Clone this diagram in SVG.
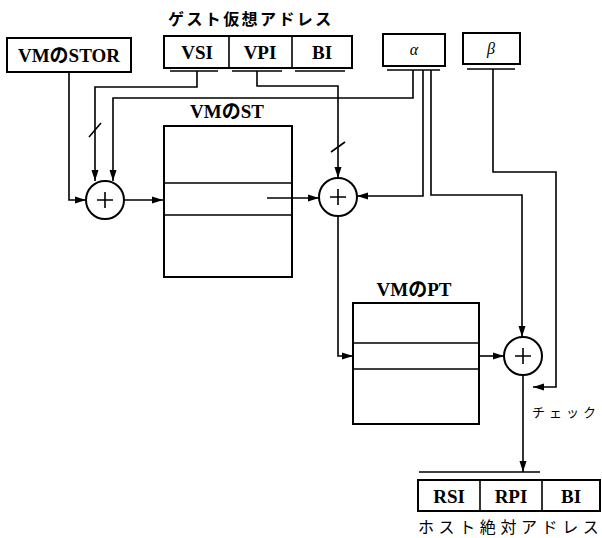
<svg xmlns="http://www.w3.org/2000/svg" width="602" height="538" viewBox="0 0 602 538">
<style>
.box{fill:#fff;stroke:#000;stroke-width:2}
.ln{fill:none;stroke:#000;stroke-width:1.6}
.ul{fill:none;stroke:#000;stroke-width:1.6}
.arr{fill:none;stroke:#000;stroke-width:1.6;marker-end:url(#ah)}
.lbl{font-family:"Liberation Serif","Noto Sans CJK JP",serif;font-weight:bold;font-size:19px;text-anchor:middle;fill:#000}
.jp{font-family:"Noto Sans CJK JP",sans-serif;fill:#000}
.gr{font-family:"Liberation Serif",serif;font-style:italic;font-size:16px;text-anchor:middle;fill:#000}
.circ{fill:#fff;stroke:#000;stroke-width:2}
</style>
<defs>
<marker id="ah" markerWidth="12" markerHeight="8" refX="11" refY="4" orient="auto" markerUnits="userSpaceOnUse">
<path d="M0,0.5 L11,4 L0,7.5 Z" fill="#000"/>
</marker>
</defs>
<rect width="602" height="538" fill="#fff"/>

<g id="vm-stor">
<rect class="box" x="7" y="38" width="124" height="34"/>
<text class="lbl" x="69" y="62">VMのSTOR</text>
</g>

<g id="guest-addr">
<text class="jp" x="168" y="25" font-size="16" letter-spacing="2.4" font-weight="bold">ゲスト仮想アドレス</text>
<rect class="box" x="164" y="36" width="188" height="32"/>
<line class="ln" x1="229" y1="36" x2="229" y2="68" stroke-width="2"/>
<line class="ln" x1="292" y1="36" x2="292" y2="68" stroke-width="2"/>
<text class="lbl" x="197" y="59">VSI</text>
<text class="lbl" x="260" y="59">VPI</text>
<text class="lbl" x="322" y="59">BI</text>
<line class="ul" x1="170" y1="71" x2="218" y2="71"/>
<line class="ul" x1="232" y1="71" x2="282" y2="71"/>
<line class="ul" x1="295" y1="71" x2="345" y2="71"/>
</g>

<g id="alpha">
<rect class="box" x="383" y="34" width="62" height="32"/>
<text class="gr" x="414" y="55">α</text>
<line class="ul" x1="387" y1="70" x2="440" y2="70"/>
</g>

<g id="beta">
<rect class="box" x="463" y="33" width="57" height="31"/>
<text class="gr" x="491" y="54">β</text>
<line class="ul" x1="467" y1="69" x2="515" y2="69"/>
</g>

<g id="adder1">
<circle class="circ" cx="105" cy="200" r="19"/>
<path class="ln" d="M97,200 H113 M105,192 V208"/>
</g>

<g id="vm-st">
<text class="lbl" x="227" y="118">VMのST</text>
<rect class="box" x="164" y="126" width="128" height="151"/>
<line class="ln" x1="164" y1="183" x2="292" y2="183" stroke-width="2"/>
<line class="ln" x1="164" y1="215" x2="292" y2="215" stroke-width="2"/>
</g>

<g id="adder2">
<circle class="circ" cx="338" cy="197" r="19"/>
<path class="ln" d="M330,197 H346 M338,189 V205"/>
</g>

<g id="vm-pt">
<text class="lbl" x="414" y="296">VMのPT</text>
<rect class="box" x="353" y="303" width="126" height="121"/>
<line class="ln" x1="353" y1="343" x2="479" y2="343" stroke-width="2"/>
<line class="ln" x1="353" y1="369" x2="479" y2="369" stroke-width="2"/>
</g>

<g id="adder3">
<circle class="circ" cx="523" cy="356" r="19"/>
<path class="ln" d="M515,356 H531 M523,348 V364"/>
</g>

<g id="check-label">
<text class="jp" x="532" y="417" font-size="13" letter-spacing="4">チェック</text>
</g>

<g id="host-addr">
<line class="ul" x1="419" y1="472" x2="540" y2="472"/>
<rect class="box" x="418" y="480" width="182" height="31"/>
<line class="ln" x1="480" y1="480" x2="480" y2="511" stroke-width="2"/>
<line class="ln" x1="542" y1="480" x2="542" y2="511" stroke-width="2"/>
<text class="lbl" x="449" y="503">RSI</text>
<text class="lbl" x="511" y="503">RPI</text>
<text class="lbl" x="571" y="503">BI</text>
<text class="jp" x="418" y="533" font-size="16" letter-spacing="4.6">ホスト絶対アドレス</text>
</g>

<g id="connectors">
<path class="arr" d="M69,72 V200 H86"/>
<path class="arr" d="M197,71 V87 H95 V181"/>
<line class="ln" x1="89" y1="137" x2="101" y2="123"/>
<path class="arr" d="M413,70 V98 H113 V181"/>
<path class="arr" d="M124,200 H163"/>
<path class="arr" d="M267,198 H319"/>
<path class="arr" d="M257,71 V86 H338 V178"/>
<line class="ln" x1="331" y1="152" x2="345" y2="142"/>
<path class="arr" d="M423,70 V196 H357"/>
<path class="arr" d="M338,216 V356 H353"/>
<path class="arr" d="M431,70 V195 H522 V337"/>
<path class="arr" d="M493,69 V172 H556 V387 H533"/>
<path class="arr" d="M479,356 H504"/>
<path class="arr" d="M523,375 V472"/>
</g>
</svg>
